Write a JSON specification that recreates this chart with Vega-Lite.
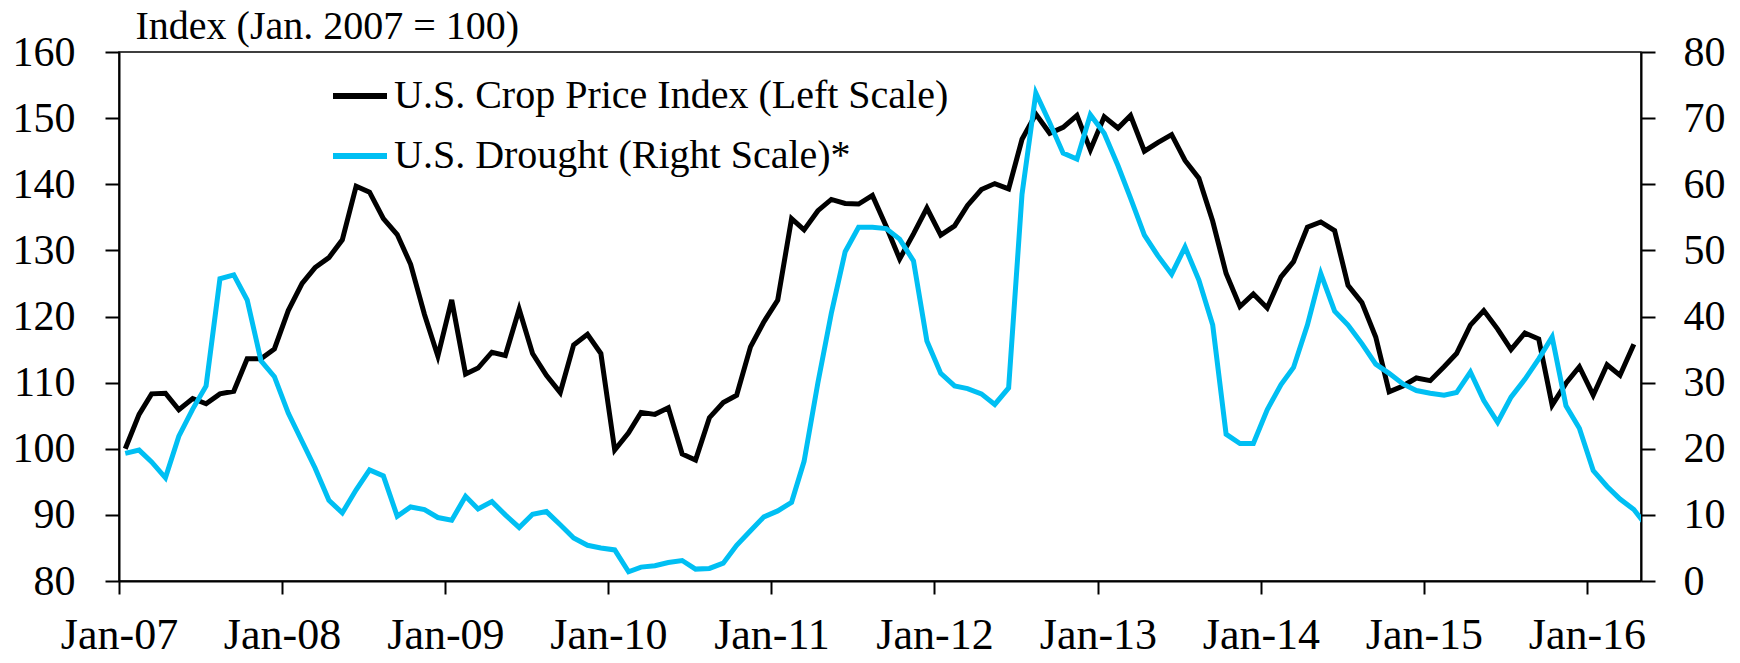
{
  "$schema": "https://vega.github.io/schema/vega-lite/v6.json",
  "width": 1522,
  "height": 529,
  "autosize": "none",
  "padding": {"left": 119, "top": 52, "right": 99, "bottom": 82},
  "background": "white",
  "config": {
    "font": "Liberation Serif",
    "view": {"stroke": "black", "strokeWidth": 1.5}
  },
  "data": {
    "values": [
      {"date": "2007-01-15", "crop": 100.0, "drought": 19.3},
      {"date": "2007-02-15", "crop": 105.2, "drought": 19.8},
      {"date": "2007-03-15", "crop": 108.3, "drought": 18.0},
      {"date": "2007-04-15", "crop": 108.4, "drought": 15.6},
      {"date": "2007-05-15", "crop": 105.9, "drought": 21.9},
      {"date": "2007-06-15", "crop": 107.6, "drought": 26.0},
      {"date": "2007-07-15", "crop": 106.8, "drought": 29.5},
      {"date": "2007-08-15", "crop": 108.3, "drought": 45.7},
      {"date": "2007-09-15", "crop": 108.7, "drought": 46.3},
      {"date": "2007-10-15", "crop": 113.6, "drought": 42.5},
      {"date": "2007-11-15", "crop": 113.6, "drought": 33.3},
      {"date": "2007-12-15", "crop": 115.1, "drought": 30.9},
      {"date": "2008-01-15", "crop": 120.9, "drought": 25.4},
      {"date": "2008-02-15", "crop": 125.0, "drought": 21.1},
      {"date": "2008-03-15", "crop": 127.4, "drought": 17.1},
      {"date": "2008-04-15", "crop": 128.9, "drought": 12.2},
      {"date": "2008-05-15", "crop": 131.6, "drought": 10.3},
      {"date": "2008-06-15", "crop": 139.7, "drought": 13.8},
      {"date": "2008-07-15", "crop": 138.8, "drought": 16.8},
      {"date": "2008-08-15", "crop": 134.8, "drought": 15.9},
      {"date": "2008-09-15", "crop": 132.4, "drought": 9.8},
      {"date": "2008-10-15", "crop": 127.9, "drought": 11.2},
      {"date": "2008-11-15", "crop": 120.3, "drought": 10.8},
      {"date": "2008-12-15", "crop": 114.0, "drought": 9.6},
      {"date": "2009-01-15", "crop": 122.5, "drought": 9.2},
      {"date": "2009-02-15", "crop": 111.3, "drought": 12.8},
      {"date": "2009-03-15", "crop": 112.2, "drought": 10.9},
      {"date": "2009-04-15", "crop": 114.6, "drought": 12.0},
      {"date": "2009-05-15", "crop": 114.1, "drought": 10.0},
      {"date": "2009-06-15", "crop": 121.1, "drought": 8.1},
      {"date": "2009-07-15", "crop": 114.4, "drought": 10.1},
      {"date": "2009-08-15", "crop": 111.1, "drought": 10.5},
      {"date": "2009-09-15", "crop": 108.5, "drought": 8.5},
      {"date": "2009-10-15", "crop": 115.7, "drought": 6.5},
      {"date": "2009-11-15", "crop": 117.3, "drought": 5.4},
      {"date": "2009-12-15", "crop": 114.4, "drought": 5.0},
      {"date": "2010-01-15", "crop": 99.8, "drought": 4.7},
      {"date": "2010-02-15", "crop": 102.4, "drought": 1.4},
      {"date": "2010-03-15", "crop": 105.5, "drought": 2.1},
      {"date": "2010-04-15", "crop": 105.2, "drought": 2.3},
      {"date": "2010-05-15", "crop": 106.2, "drought": 2.8},
      {"date": "2010-06-15", "crop": 99.2, "drought": 3.1},
      {"date": "2010-07-15", "crop": 98.3, "drought": 1.8},
      {"date": "2010-08-15", "crop": 104.7, "drought": 1.9},
      {"date": "2010-09-15", "crop": 107.0, "drought": 2.7},
      {"date": "2010-10-15", "crop": 108.1, "drought": 5.4},
      {"date": "2010-11-15", "crop": 115.4, "drought": 7.6},
      {"date": "2010-12-15", "crop": 119.2, "drought": 9.7},
      {"date": "2011-01-15", "crop": 122.5, "drought": 10.6},
      {"date": "2011-02-15", "crop": 134.8, "drought": 11.9},
      {"date": "2011-03-15", "crop": 133.1, "drought": 18.1},
      {"date": "2011-04-15", "crop": 136.0, "drought": 30.0},
      {"date": "2011-05-15", "crop": 137.7, "drought": 40.5},
      {"date": "2011-06-15", "crop": 137.1, "drought": 49.8},
      {"date": "2011-07-15", "crop": 137.0, "drought": 53.5},
      {"date": "2011-08-15", "crop": 138.3, "drought": 53.5},
      {"date": "2011-09-15", "crop": 133.6, "drought": 53.3},
      {"date": "2011-10-15", "crop": 128.7, "drought": 51.7},
      {"date": "2011-11-15", "crop": 132.5, "drought": 48.4},
      {"date": "2011-12-15", "crop": 136.4, "drought": 36.3},
      {"date": "2012-01-15", "crop": 132.3, "drought": 31.4},
      {"date": "2012-02-15", "crop": 133.7, "drought": 29.5},
      {"date": "2012-03-15", "crop": 136.8, "drought": 29.1},
      {"date": "2012-04-15", "crop": 139.2, "drought": 28.3},
      {"date": "2012-05-15", "crop": 140.1, "drought": 26.7},
      {"date": "2012-06-15", "crop": 139.3, "drought": 29.2},
      {"date": "2012-07-15", "crop": 146.8, "drought": 58.5},
      {"date": "2012-08-15", "crop": 150.6, "drought": 73.8},
      {"date": "2012-09-15", "crop": 147.7, "drought": 69.3},
      {"date": "2012-10-15", "crop": 148.6, "drought": 64.7},
      {"date": "2012-11-15", "crop": 150.4, "drought": 63.8},
      {"date": "2012-12-15", "crop": 145.2, "drought": 70.5},
      {"date": "2013-01-15", "crop": 150.2, "drought": 67.7},
      {"date": "2013-02-15", "crop": 148.5, "drought": 62.8},
      {"date": "2013-03-15", "crop": 150.4, "drought": 57.9},
      {"date": "2013-04-15", "crop": 145.0, "drought": 52.3},
      {"date": "2013-05-15", "crop": 146.3, "drought": 49.2},
      {"date": "2013-06-15", "crop": 147.5, "drought": 46.4},
      {"date": "2013-07-15", "crop": 143.6, "drought": 50.5},
      {"date": "2013-08-15", "crop": 140.9, "drought": 45.5},
      {"date": "2013-09-15", "crop": 134.4, "drought": 38.7},
      {"date": "2013-10-15", "crop": 126.5, "drought": 22.2},
      {"date": "2013-11-15", "crop": 121.5, "drought": 20.8},
      {"date": "2013-12-15", "crop": 123.4, "drought": 20.8},
      {"date": "2014-01-15", "crop": 121.3, "drought": 25.9},
      {"date": "2014-02-15", "crop": 126.0, "drought": 29.7},
      {"date": "2014-03-15", "crop": 128.3, "drought": 32.3},
      {"date": "2014-04-15", "crop": 133.5, "drought": 38.7},
      {"date": "2014-05-15", "crop": 134.3, "drought": 46.5},
      {"date": "2014-06-15", "crop": 133.0, "drought": 40.8},
      {"date": "2014-07-15", "crop": 124.7, "drought": 38.7},
      {"date": "2014-08-15", "crop": 122.1, "drought": 35.9},
      {"date": "2014-09-15", "crop": 116.9, "drought": 32.8},
      {"date": "2014-10-15", "crop": 108.6, "drought": 31.4},
      {"date": "2014-11-15", "crop": 109.5, "drought": 29.8},
      {"date": "2014-12-15", "crop": 110.7, "drought": 28.8},
      {"date": "2015-01-15", "crop": 110.3, "drought": 28.4},
      {"date": "2015-02-15", "crop": 112.4, "drought": 28.1},
      {"date": "2015-03-15", "crop": 114.4, "drought": 28.5},
      {"date": "2015-04-15", "crop": 118.7, "drought": 31.6},
      {"date": "2015-05-15", "crop": 120.9, "drought": 27.3},
      {"date": "2015-06-15", "crop": 118.1, "drought": 24.0},
      {"date": "2015-07-15", "crop": 115.0, "drought": 27.8},
      {"date": "2015-08-15", "crop": 117.5, "drought": 30.5},
      {"date": "2015-09-15", "crop": 116.6, "drought": 33.6},
      {"date": "2015-10-15", "crop": 106.6, "drought": 36.9},
      {"date": "2015-11-15", "crop": 109.9, "drought": 26.5},
      {"date": "2015-12-15", "crop": 112.4, "drought": 23.1},
      {"date": "2016-01-15", "crop": 108.1, "drought": 16.7},
      {"date": "2016-02-15", "crop": 112.7, "drought": 14.3},
      {"date": "2016-03-15", "crop": 111.1, "drought": 12.4},
      {"date": "2016-04-15", "crop": 115.8, "drought": 10.8},
      {"date": "2016-05-15", "crop": null, "drought": 8.2}
    ]
  },
  "encoding": {
    "x": {
      "field": "date",
      "type": "temporal",
      "scale": {
        "type": "utc",
        "nice": false,
        "domain": [
          {"year": 2007, "month": 1, "date": 1, "utc": true},
          {"year": 2016, "month": 5, "date": 1, "utc": true}
        ]
      },
      "axis": {
        "values": [
          {"year": 2007, "month": 1, "date": 1, "utc": true},
          {"year": 2008, "month": 1, "date": 1, "utc": true},
          {"year": 2009, "month": 1, "date": 1, "utc": true},
          {"year": 2010, "month": 1, "date": 1, "utc": true},
          {"year": 2011, "month": 1, "date": 1, "utc": true},
          {"year": 2012, "month": 1, "date": 1, "utc": true},
          {"year": 2013, "month": 1, "date": 1, "utc": true},
          {"year": 2014, "month": 1, "date": 1, "utc": true},
          {"year": 2015, "month": 1, "date": 1, "utc": true},
          {"year": 2016, "month": 1, "date": 1, "utc": true}
        ],
        "format": "%b-%y",
        "title": null,
        "grid": false,
        "tickSize": 13,
        "tickWidth": 2,
        "tickColor": "black",
        "domainColor": "black",
        "domainWidth": 2,
        "labelFont": "Liberation Serif",
        "labelFontSize": 44,
        "labelColor": "black",
        "labelPadding": 19,
        "labelFlush": false,
        "labelOverlap": false
      }
    }
  },
  "layer": [
    {
      "mark": {"type": "line", "strokeWidth": 5, "clip": true},
      "encoding": {
        "y": {
          "field": "crop",
          "type": "quantitative",
          "scale": {"domain": [80, 160], "nice": false, "zero": false},
          "axis": {
            "orient": "left",
            "values": [80, 90, 100, 110, 120, 130, 140, 150, 160],
            "grid": false,
            "tickSize": 14,
            "tickWidth": 2,
            "tickColor": "black",
            "domainColor": "black",
            "domainWidth": 2,
            "labelFont": "Liberation Serif",
            "labelFontSize": 42,
            "labelColor": "black",
            "labelPadding": 30,
            "labelFlush": false,
            "title": "Index (Jan. 2007 = 100)",
            "titleAngle": 0,
            "titleX": 16,
            "titleY": -14,
            "titleAlign": "left",
            "titleBaseline": "alphabetic",
            "titleFont": "Liberation Serif",
            "titleFontSize": 40,
            "titleFontWeight": "normal",
            "titleColor": "black"
          }
        },
        "color": {
          "datum": "U.S. Crop Price Index (Left Scale)",
          "type": "nominal",
          "scale": {
            "domain": ["U.S. Crop Price Index (Left Scale)", "U.S. Drought (Right Scale)*"],
            "range": ["#000000", "#00BFF3"]
          },
          "legend": {
            "title": null,
            "orient": "none",
            "legendX": 211,
            "legendY": 14,
            "padding": 0,
            "symbolType": "stroke",
            "symbolSize": 2916,
            "symbolStrokeWidth": 6,
            "labelFont": "Liberation Serif",
            "labelFontSize": 40,
            "labelColor": "black",
            "labelOffset": 4,
            "labelLimit": 0,
            "rowPadding": 10
          }
        }
      }
    },
    {
      "mark": {"type": "line", "strokeWidth": 5, "clip": true},
      "encoding": {
        "y": {
          "field": "drought",
          "type": "quantitative",
          "scale": {"domain": [0, 80], "nice": false},
          "axis": {
            "orient": "right",
            "values": [0, 10, 20, 30, 40, 50, 60, 70, 80],
            "grid": false,
            "tickSize": 14,
            "tickWidth": 2,
            "tickColor": "black",
            "domainColor": "black",
            "domainWidth": 2,
            "labelFont": "Liberation Serif",
            "labelFontSize": 42,
            "labelColor": "black",
            "labelPadding": 28,
            "labelFlush": false,
            "title": null
          }
        },
        "color": {"datum": "U.S. Drought (Right Scale)*", "type": "nominal"}
      }
    }
  ],
  "resolve": {"scale": {"y": "independent"}}
}
